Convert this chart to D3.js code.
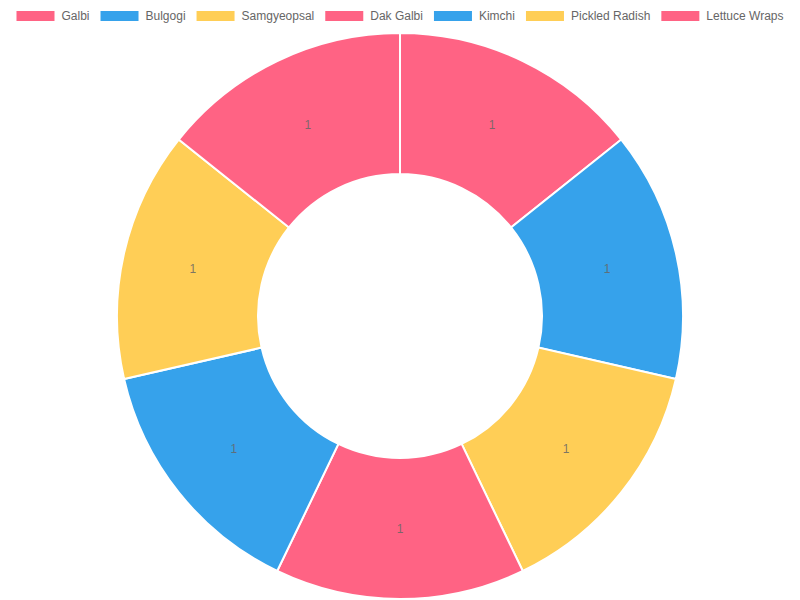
<!DOCTYPE html>
<html>
<head>
    <script src="https://cdn.jsdelivr.net/npm/d3@7/dist/d3.min.js"></script>
    <style>
        body { margin: 0; background: #fff; }
        svg { display: block; font-family: "Liberation Sans", Arial, sans-serif; }
    </style>
</head>
<body>
    <svg width="800" height="600"></svg>
    <script>
        const categories = ["Galbi", "Bulgogi", "Samgyeopsal", "Dak Galbi", "Kimchi", "Pickled Radish", "Lettuce Wraps"];
        const values = [1, 1, 1, 1, 1, 1, 1];
        const colors = ["#ff6384", "#36a2eb", "#ffce56", "#ff6384", "#36a2eb", "#ffce56", "#ff6384"];

        const svg = d3.select("svg");
        const cx = 400, cy = 316, outerR = 283, innerR = 142;

        // legend, centred like chart.js
        const legend = svg.append("g");
        const boxW = 38, gap = 7, pad = 11;
        let x = 0;
        const items = categories.map(function(c, i) {
            const t = legend.append("text")
                .attr("font-size", 12)
                .attr("fill", "#666")
                .attr("dy", "0.35em")
                .text(c);
            const w = t.node().getComputedTextLength();
            const item = { x: x, t: t, i: i };
            x += boxW + gap + w + pad;
            return item;
        });
        const total = x - pad;
        const off = (800 - total) / 2;
        items.forEach(function(d) {
            legend.append("rect")
                .attr("x", off + d.x)
                .attr("y", 11)
                .attr("width", boxW)
                .attr("height", 10)
                .attr("fill", colors[d.i]);
            d.t.attr("x", off + d.x + boxW + gap).attr("y", 16);
        });

        const pie = d3.pie().sort(null).value(function(d) { return d; });
        const arc = d3.arc().innerRadius(innerR).outerRadius(outerR);
        const arcs = pie(values);

        const g = svg.append("g").attr("transform", "translate(" + cx + "," + cy + ")");
        g.selectAll("path")
            .data(arcs)
            .enter()
            .append("path")
                .attr("d", arc)
                .attr("fill", function(d, i) { return colors[i]; })
                .attr("stroke", "#fff")
                .attr("stroke-width", 2);

        g.selectAll("text")
            .data(arcs)
            .enter()
            .append("text")
                .attr("transform", function(d) { return "translate(" + arc.centroid(d) + ")"; })
                .attr("text-anchor", "middle")
                .attr("dy", "0.35em")
                .attr("font-size", 12)
                .attr("fill", "#666")
                .attr("fill-opacity", 0.85)
                .text(function(d) { return d.data; });
    </script>
</body>
</html>
